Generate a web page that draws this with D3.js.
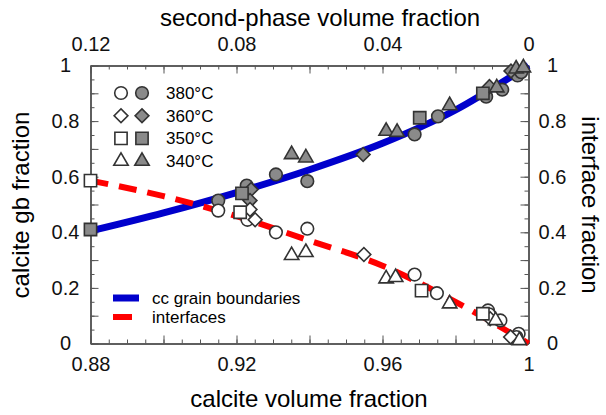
<!DOCTYPE html>
<head>
    <meta charset="utf-8">
    <title>calcite gb fraction</title>
    <script src="https://d3js.org/d3.v7.min.js"></script>
    <style>
        body { margin: 0; background: #fff; }
        svg { font-family: "Liberation Sans", Arial, sans-serif; }
        .axis path, .axis line { stroke: #555; }
        .axis text { fill: #111; }
    </style>
</head>
<body>
    <div id="container"></div>
    <script>
        //-----------------------------DATA-----------------------------//
        // fitted curves (calcite volume fraction -> fraction)
        var curveX = [0.88, 0.90, 0.92, 0.94, 0.96, 0.98, 1.0];
        var gbCurve = [0.405, 0.47, 0.543, 0.625, 0.72, 0.84, 1.0];
        var ifCurve = [0.586, 0.53, 0.458, 0.37, 0.28, 0.15, 0.0];

        var temps = ["380°C", "360°C", "350°C", "340°C"];
        var shapes = ["circle", "diamond", "square", "triangle"];

        // filled symbols: calcite gb fraction
        var gb380 = [[0.915, 0.514], [0.9228, 0.568], [0.9308, 0.608], [0.9394, 0.584], [0.9688, 0.752],
            [0.9752, 0.817], [0.9884, 0.888], [0.9928, 0.913], [0.997, 0.964], [0.998, 0.976]];
        var gb360 = [[0.924, 0.554], [0.9237, 0.514], [0.9547, 0.68], [0.9893, 0.924], [0.9952, 0.98]];
        var gb350 = [[0.88, 0.41], [0.9215, 0.54], [0.9702, 0.812], [0.9875, 0.90]];
        var gb340 = [[0.9351, 0.68], [0.939, 0.668], [0.961, 0.764], [0.964, 0.76], [0.9784, 0.856],
            [0.9913, 0.92], [0.9966, 0.988], [0.9986, 0.992]];

        // open symbols: interface fraction
        var if380 = [[0.915, 0.478], [0.923, 0.445], [0.9308, 0.40], [0.9394, 0.413], [0.9688, 0.248],
            [0.9749, 0.181], [0.9889, 0.119], [0.9892, 0.105], [0.9923, 0.083], [0.9973, 0.035], [0.9967, 0.023]];
        var if360 = [[0.9237, 0.482], [0.9251, 0.445], [0.9549, 0.32], [0.9895, 0.089], [0.9951, 0.023]];
        var if350 = [[0.88, 0.586], [0.921, 0.472], [0.9707, 0.19], [0.9875, 0.107]];
        var if340 = [[0.9351, 0.317], [0.939, 0.328], [0.961, 0.233], [0.9636, 0.238], [0.9784, 0.143],
            [0.991, 0.083], [0.9975, 0.011]];

        var gbSets = [gb380, gb360, gb350, gb340];
        var ifSets = [if380, if360, if350, if340];

        //--------------------------PREPARATION--------------------------//
        var W = 606, H = 415;
        var plotL = 90.5, plotR = 528.5, plotT = 65.5, plotB = 343.5;

        var xScale = d3.scaleLinear().domain([0.88, 1]).range([plotL, plotR]);
        var xTop = d3.scaleLinear().domain([0.12, 0]).range([plotL, plotR]);
        var yScale = d3.scaleLinear().domain([0, 1]).range([plotB, plotT]);

        var svg = d3.select("#container").append("svg")
            .attr("width", W).attr("height", H);

        var fmt = d3.format("~g");

        //-----------------------------AXES-----------------------------//
        function makeTicks(start, n, step) {
            return d3.range(n + 1).map(function (i) { return +(start + i * step).toFixed(4); });
        }
        var xMinor = makeTicks(0.88, 24, 0.005), xMajor = makeTicks(0.88, 6, 0.02), xLab = makeTicks(0.88, 3, 0.04);
        var tMinor = makeTicks(0, 24, 0.005), tMajor = makeTicks(0, 6, 0.02), tLab = makeTicks(0, 3, 0.04);
        var yMinor = makeTicks(0, 20, 0.05), yMajor = makeTicks(0, 10, 0.1), yLab = makeTicks(0, 5, 0.2);

        function addAxis(axisFn, scale, pos, minor, major, lab, pad) {
            svg.append("g").attr("class", "axis").attr("transform", pos)
                .call(axisFn(scale).tickValues(minor).tickSizeInner(-4).tickSizeOuter(0).tickFormat(""));
            return svg.append("g").attr("class", "axis").attr("transform", pos)
                .call(axisFn(scale).tickValues(major).tickSizeInner(-8).tickSizeOuter(0).tickPadding(pad)
                    .tickFormat(function (d) { return lab.indexOf(d) >= 0 ? fmt(d) : ""; }))
                .selectAll("text").style("font-size", "20px");
        }

        addAxis(d3.axisBottom, xScale, "translate(0," + plotB + ")", xMinor, xMajor, xLab, 13);
        addAxis(d3.axisTop, xTop, "translate(0," + plotT + ")", tMinor, tMajor, tLab, 15);
        // side labels are centred in a column beside the frame
        addAxis(d3.axisLeft, yScale, "translate(" + plotL + ",0)", yMinor, yMajor, yLab, 10)
            .attr("text-anchor", "middle").attr("x", -25);
        addAxis(d3.axisRight, yScale, "translate(" + plotR + ",0)", yMinor, yMajor, yLab, 10)
            .attr("text-anchor", "middle").attr("x", 24);

        svg.selectAll(".axis path.domain").style("stroke", "#555").style("stroke-width", 1.5);

        // titles
        svg.append("text").attr("x", 320).attr("y", 26).attr("text-anchor", "middle")
            .style("font-size", "24px").text("second-phase volume fraction");
        svg.append("text").attr("x", 309).attr("y", 407).attr("text-anchor", "middle")
            .style("font-size", "24px").text("calcite volume fraction");
        svg.append("text").attr("transform", "translate(29,205) rotate(-90)").attr("text-anchor", "middle")
            .style("font-size", "24px").text("calcite gb fraction");
        svg.append("text").attr("transform", "translate(582,205) rotate(90)").attr("text-anchor", "middle")
            .style("font-size", "24px").text("interface fraction");

        //----------------------------LINES-----------------------------//
        var line = d3.line()
            .x(function (d) { return xScale(d[0]); })
            .y(function (d) { return yScale(d[1]); })
            .curve(d3.curveMonotoneX);

        svg.append("path")
            .datum(curveX.map(function (x, i) { return [x, gbCurve[i]]; }))
            .attr("d", line)
            .style("fill", "none").style("stroke", "#0000cc").style("stroke-width", 7);

        svg.append("path")
            .datum(curveX.map(function (x, i) { return [x, ifCurve[i]]; }))
            .attr("d", line)
            .style("fill", "none").style("stroke", "#ff0000").style("stroke-width", 6)
            .style("stroke-dasharray", "18,11");

        //---------------------------POINTS-----------------------------//
        var symbolTypes = {
            circle: d3.symbolCircle, diamond: d3.symbolSquare,
            square: d3.symbolSquare, triangle: d3.symbolTriangle
        };
        var symbolSizes = { circle: 125, diamond: 95, square: 150, triangle: 90 };

        function symbolPath(shape) {
            return d3.symbol().type(symbolTypes[shape]).size(symbolSizes[shape])();
        }
        function symbolTransform(shape, x, y) {
            return "translate(" + x + "," + y + ")" + (shape === "diamond" ? " rotate(45)" : "");
        }

        function drawPoints(sets, filled) {
            sets.forEach(function (pts, k) {
                svg.append("g").selectAll("path")
                    .data(pts)
                    .enter().append("path")
                    .attr("transform", function (d) { return symbolTransform(shapes[k], xScale(d[0]), yScale(d[1])); })
                    .attr("d", symbolPath(shapes[k]))
                    .style("fill", filled ? "#8a8a8a" : "#fff")
                    .style("stroke", "#333")
                    .style("stroke-width", 1.6);
            });
        }
        drawPoints(gbSets, true);
        drawPoints(ifSets, false);

        //----------------------------LEGEND----------------------------//
        var legend = svg.selectAll(".legend")
            .data(temps)
            .enter().append("g")
            .attr("class", "legend")
            .attr("transform", function (d, i) { return "translate(0," + (93 + i * 22.7) + ")"; });

        legend.append("path")
            .attr("transform", function (d, i) { return symbolTransform(shapes[i], 121, 0); })
            .attr("d", function (d, i) { return symbolPath(shapes[i]); })
            .style("fill", "#fff").style("stroke", "#333").style("stroke-width", 1.6);
        legend.append("path")
            .attr("transform", function (d, i) { return symbolTransform(shapes[i], 142, 0); })
            .attr("d", function (d, i) { return symbolPath(shapes[i]); })
            .style("fill", "#8a8a8a").style("stroke", "#333").style("stroke-width", 1.6);
        legend.append("text")
            .attr("x", 166).attr("dy", "0.35em")
            .style("font-size", "17px")
            .text(function (d) { return d; });

        var lineLegend = [
            { label: "cc grain boundaries", color: "#0000cc", width: 7, x2: 139 },
            { label: "interfaces", color: "#ff0000", width: 6, x2: 132 }
        ];
        var ll = svg.selectAll(".lline")
            .data(lineLegend)
            .enter().append("g")
            .attr("transform", function (d, i) { return "translate(0," + (298 + i * 19) + ")"; });
        ll.append("line")
            .attr("x1", 113).attr("x2", function (d) { return d.x2; })
            .style("stroke", function (d) { return d.color; })
            .style("stroke-width", function (d) { return d.width; });
        ll.append("text")
            .attr("x", 152).attr("dy", "0.35em")
            .style("font-size", "17px")
            .text(function (d) { return d.label; });
    </script>
</body>
